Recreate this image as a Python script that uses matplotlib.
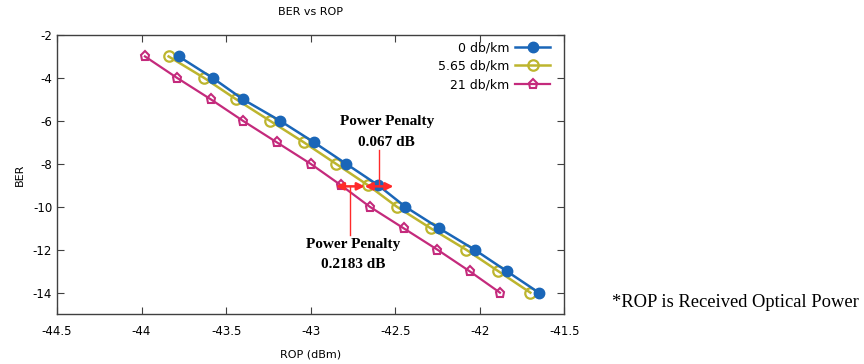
import matplotlib as mpl
import matplotlib.pyplot as plt

mpl.rcParams.update({
    "font.family": "DejaVu Sans",
    "font.size": 8,
    "axes.unicode_minus": False,
    "axes.linewidth": 1.0,
    "axes.edgecolor": "#404040",
    "xtick.direction": "in", "ytick.direction": "in",
    "xtick.top": True, "ytick.right": True,
    "xtick.major.size": 5, "ytick.major.size": 5,
    "xtick.color": "#404040", "ytick.color": "#404040",
    "xtick.labelcolor": "black", "ytick.labelcolor": "black",
    "xtick.labelsize": 8.5, "ytick.labelsize": 8.5,
})

C_BLUE = "#1a66b8"; C_OLIVE = "#bdb52e"; C_PINK = "#c42a7c"; C_RED = "#ff2a2a"

ber = [-3, -4, -5, -6, -7, -8, -9, -10, -11, -12, -13, -14]
rop_0 = [-43.78, -43.58, -43.40, -43.18, -42.98, -42.79, -42.60, -42.44, -42.24, -42.03, -41.84, -41.65]
rop_565 = [-43.84, -43.63, -43.44, -43.24, -43.04, -42.85, -42.66, -42.49, -42.29, -42.08, -41.89, -41.70]
rop_21 = [-43.98, -43.79, -43.59, -43.40, -43.20, -43.00, -42.82, -42.65, -42.45, -42.25, -42.06, -41.88]
xticks = [-44.5, -44, -43.5, -43, -42.5, -42, -41.5]
yticks = [-14, -12, -10, -8, -6, -4, -2]

fig = plt.figure(figsize=(8.64, 3.64), dpi=100)
ax = fig.add_axes([0.066, 0.137, 0.587, 0.767])

ax.plot(rop_0, ber, "-o", color=C_BLUE, lw=1.8, ms=7.5, label="0 db/km", zorder=4)
ax.plot(rop_565, ber, "-o", color=C_OLIVE, lw=1.8, ms=7.5, mfc="none", mew=1.6,
        label="5.65 db/km", zorder=3)
ax.plot(rop_21, ber, "-p", color=C_PINK, lw=1.6, ms=6.5, mfc="none", mew=1.5,
        label="21 db/km", zorder=3)

# power penalty arrows at BER = -9
arr = dict(arrowstyle="<|-|>", color=C_RED, lw=1.8, mutation_scale=11, shrinkA=0, shrinkB=0)
ax.annotate("", xy=(-42.68, -9.05), xytext=(-42.85, -9.05), arrowprops=arr, zorder=6)
ax.annotate("", xy=(-42.51, -9.05), xytext=(-42.68, -9.05), arrowprops=arr, zorder=6)
ax.plot([-42.593, -42.593], [-9.05, -7.35], color=C_RED, lw=1.0, zorder=5)
ax.plot([-42.766, -42.766], [-9.05, -11.3], color=C_RED, lw=1.0, zorder=5)

serif = dict(family="Liberation Serif", fontsize=11, fontweight="bold", ha="center", va="center")
ax.text(-42.55, -6.05, "Power Penalty", **serif)
ax.text(-42.55, -7.0, "0.067 dB", **serif)
ax.text(-42.75, -11.75, "Power Penalty", **serif)
ax.text(-42.75, -12.7, "0.2183 dB", **serif)

ax.set_xlim(-44.5, -41.5)
ax.set_ylim(-15, -2)
ax.set_xticks(xticks)
ax.set_xticklabels([f"{t:g}" for t in xticks])
ax.set_yticks(yticks)
ax.tick_params(axis="x", pad=8)
ax.set_xlabel("ROP (dBm)", labelpad=8)
ax.set_ylabel("BER", labelpad=6)
ax.set_title("BER vs ROP", fontsize=8, pad=14)

leg = ax.legend(loc="upper right", bbox_to_anchor=(0.985, 1.0), frameon=False,
                markerfirst=False, fontsize=9, handlelength=2.8, labelspacing=0.45,
                borderaxespad=0.1, handletextpad=0.5)
for col in leg._legend_handle_box.get_children():
    col.align = "right"

fig.text(0.708, 0.17, "*ROP is Received Optical Power", family="Liberation Serif",
         fontsize=13.3, ha="left", va="center")

fig.savefig("out.png", dpi=100)
